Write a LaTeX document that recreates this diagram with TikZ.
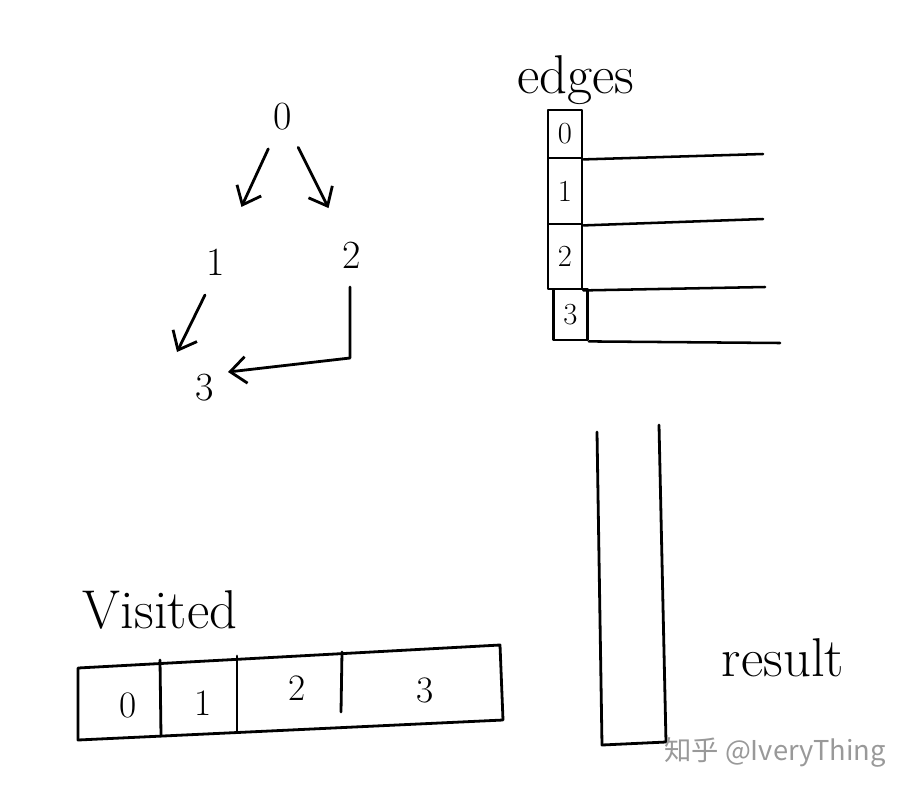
\documentclass[tikz,border=0pt]{standalone}
\usepackage{fontspec}
\newfontfamily\cjk{Noto Sans CJK SC}
\usetikzlibrary{arrows.meta,calc}
\begin{document}
\begin{tikzpicture}[x=0.75pt,y=-0.75pt, line width=2.1pt, line cap=round, line join=round,
  lbl/.style={font=\fontsize{30}{34}\selectfont, inner sep=0pt},
  cellnum/.style={font=\fontsize{23}{26}\selectfont},
  vnum/.style={font=\fontsize{28}{32}\selectfont, inner sep=0pt},
  word/.style={font=\fontsize{41}{45}\selectfont, inner sep=0pt},
  cell/.style={draw, minimum width=25.5pt, inner sep=0pt, cellnum},
  arr/.style={-{Straight Barb[length=12pt,width=20pt,line width=2.1pt]}},
  ptr/.style={line width=1.9pt}]
\useasboundingbox (0,0) rectangle (907,794);

% graph
\node[lbl] (g0) at (283,117) {0};
\node[lbl] (g1) at (216,262) {1};
\node[lbl] (g2) at (352,255) {2};
\node[lbl] (g3) at (205,388) {3};
\draw[arr] ($(g0)!0.22!(g1)$) -- ($(g0)!0.62!(g1)$);
\draw[arr] ($(g0)!0.22!(g2)$) -- ($(g0)!0.66!(g2)$);
\draw[arr] ([shift={(-11,33)}]g1.center) -- ([shift={(-28,-36)}]g3.center);
\draw[arr] ([shift={(-2,32)}]g2.center) -- ++(0,71) -- ([shift={(23,-16)}]g3.center);

% edges array
\node[word] (edges) at (576,80) {edges};
\node[cell, minimum height=36pt] (c0) at (565,134) {0};
\node[cell, minimum height=49.5pt] (c1) at (565,191) {1};
\node[cell, minimum height=48.75pt] (c2) at (565,256.5) {2};
\node[cell, minimum height=38.25pt] (c3) at (570.5,314.5) {3};
\coordinate (e0) at (763,154);
\coordinate (e1) at (763,219);
\coordinate (e2) at (765,287);
\coordinate (e3) at (780,343);
\draw[ptr] (c0.south east) -- (e0);
\draw[ptr] (c1.south east) -- (e1);
\draw[ptr] (c2.south east) -- (e2);
\draw[ptr] (c3.south east) -- (e3);

% visited
\node[word] (visited) at (160,610) {Visited};
\draw (78,668) -- (500,645) -- (503,720) -- (78,740) -- cycle;
\draw (160,660) -- (161,736);
\draw (237,656) -- (237,731);
\draw (342,652) -- (341,712);
\node[vnum] (v0) at (128,705) {0};
\node[vnum] (v1) at (203,703) {1};
\node[vnum] (v2) at (297,688) {2};
\node[vnum] (v3) at (425,690) {3};

% result
\draw (597,432) -- (602,745) -- (666,742) -- (659,425);
\node[word] (result) at (783,658) {result};

% watermark
\node[text=black!40, font=\cjk\fontsize{20.5}{24}\selectfont, inner sep=0pt] (wm) at (775,752) {知乎 @IveryThing};
\end{tikzpicture}
\end{document}
